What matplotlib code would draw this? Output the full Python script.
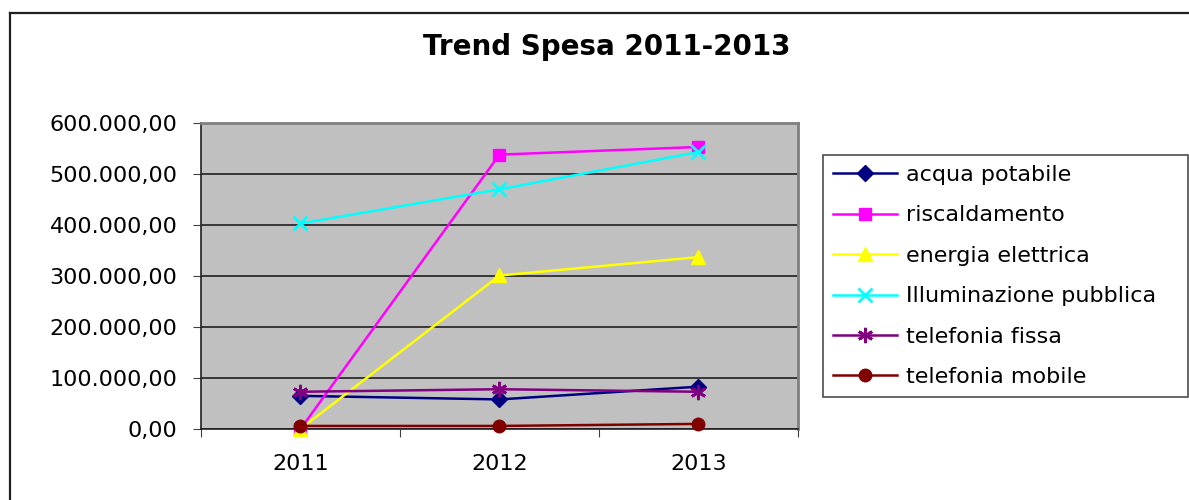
import numpy as np
import matplotlib.pyplot as plt
from matplotlib.lines import Line2D

years = ["2011", "2012", "2013"]
acqua_potabile = [65000, 58000, 83000]
riscaldamento = [0, 538000, 553000]
energia_elettrica = [0, 301000, 337000]
illuminazione_pubblica = [403000, 470000, 543000]
telefonia_fissa = [73000, 78000, 73000]
telefonia_mobile = [6000, 6000, 10000]

series = [
    ("acqua potabile", acqua_potabile, "#000080", "D", 8),
    ("riscaldamento", riscaldamento, "#FF00FF", "s", 8),
    ("energia elettrica", energia_elettrica, "#FFFF00", "^", 10),
    ("Illuminazione pubblica", illuminazione_pubblica, "#00FFFF", "x", 10),
    ("telefonia fissa", telefonia_fissa, "#800080", (6, 2, 0), 11),
    ("telefonia mobile", telefonia_mobile, "#800000", "o", 9),
]

plt.rcParams['font.family'] = ['DejaVu Sans']

W, H = 1189, 500
fig = plt.figure(figsize=(W / 100, H / 100), dpi=100)
ax = fig.add_axes([201 / W, 1 - 429 / H, (798 - 201) / W, (429 - 123) / H])
ax.set_facecolor("#C0C0C0")

x = np.arange(len(years))
for name, vals, color, marker, ms in series:
    ax.plot(x, vals, color=color, marker=marker, markersize=ms, lw=1.8,
            markeredgewidth=2 if marker in ("x", (6, 2, 0)) else 1,
            markeredgecolor=color, label=name, clip_on=False, zorder=3)

ax.set_xlim(-0.5, 2.5)
ax.set_ylim(0, 600000)
yt = np.arange(0, 600001, 100000)
ax.set_yticks(yt)
ax.set_yticklabels([f"{v:,.2f}".replace(",", "#").replace(".", ",").replace("#", ".") for v in yt],
                   fontsize=16)
ax.yaxis.grid(True, color="#202020", lw=1.2)
ax.set_axisbelow(True)

ax.set_xticks([-0.5, 0.5, 1.5, 2.5])
ax.set_xticklabels([])
ax.set_xticks(x, minor=True)
ax.set_xticklabels(years, minor=True, fontsize=16)
ax.tick_params(axis="x", which="major", direction="out", length=5.5, color="#404040")
ax.tick_params(axis="x", which="minor", length=0, pad=18)
ax.tick_params(axis="y", direction="out", length=6, pad=11, color="#404040")

for side in ("top", "right"):
    ax.spines[side].set_color("#808080")
    ax.spines[side].set_linewidth(2)
for side in ("left", "bottom"):
    ax.spines[side].set_color("#202020")
    ax.spines[side].set_linewidth(1.2)

fig.text(607 / W, 1 - 47 / H, "Trend Spesa 2011-2013", fontsize=20,
         fontweight="bold", ha="center", va="center")

# outer chart border (left and top visible)
fig.add_artist(Line2D([10 / W, 10 / W], [0, 1 - 13 / H], transform=fig.transFigure,
                      color="#202020", lw=1.6))
fig.add_artist(Line2D([10 / W, 1], [1 - 13 / H, 1 - 13 / H], transform=fig.transFigure,
                      color="#202020", lw=1.6))

leg = fig.legend(loc="upper left",
                 bbox_to_anchor=(823 / W, 1 - 397 / H, (1188 - 823) / W, (397 - 155) / H),
                 mode="expand", fontsize=16, frameon=True, fancybox=False,
                 edgecolor="#202020", borderaxespad=0, borderpad=0.45,
                 handlelength=2.9, handletextpad=0.4, labelspacing=0.92)
leg.get_frame().set_linewidth(1.2)

fig.savefig("out.png", dpi=100)
